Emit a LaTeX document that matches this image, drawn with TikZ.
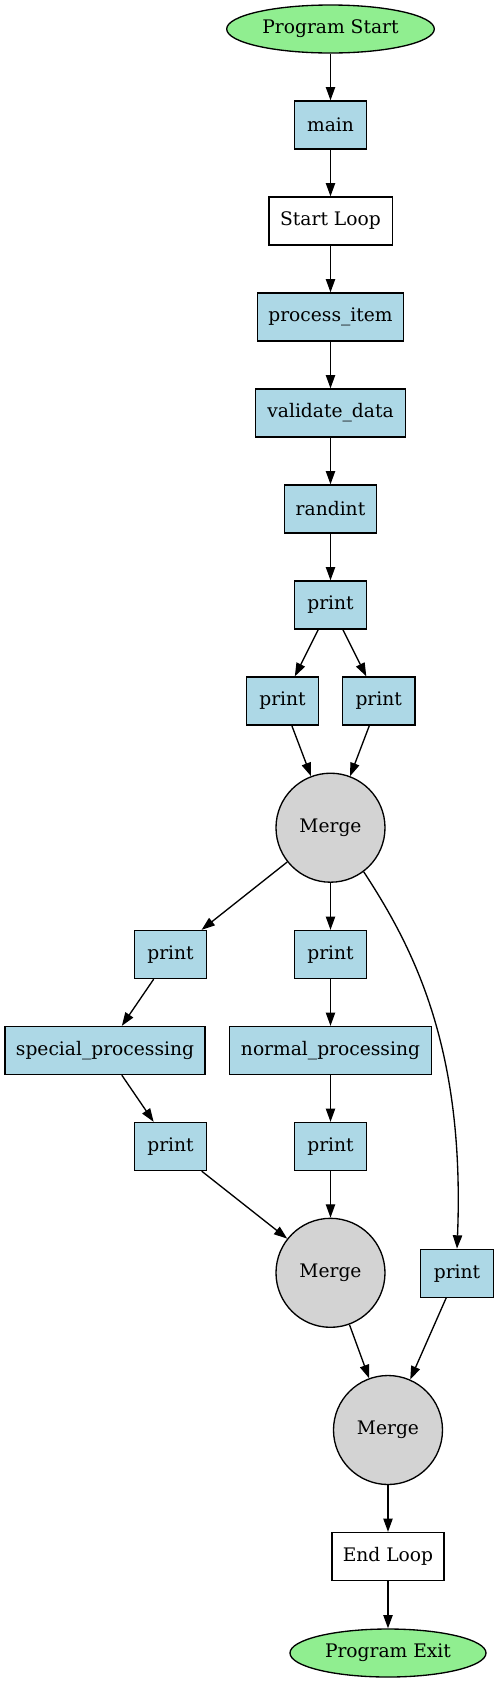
\documentclass[tikz,border=0pt]{standalone}
\usepackage{fontspec}
\setmainfont{DejaVu Serif}
\usetikzlibrary{arrows.meta,shapes.geometric}
\definecolor{lblue}{HTML}{ADD8E6}
\definecolor{lgreen}{HTML}{90EE90}
\definecolor{lgrey}{HTML}{D3D3D3}
\tikzset{
  every node/.style={font=\fontsize{14}{16.8}\selectfont, line width=1pt},
  box/.style={draw, rectangle, fill=lblue, minimum height=36pt, inner xsep=4pt, inner ysep=0pt},
  wbox/.style={box, fill=white},
  term/.style={draw, ellipse, fill=lgreen, minimum height=36pt, inner sep=0pt},
  merge/.style={draw, circle, fill=lgrey, minimum size=81.75pt, inner sep=0pt},
  conn/.style={-{Triangle[length=10pt,width=7pt]}, line width=1pt},
}
\begin{document}
\begin{tikzpicture}[x=0.75pt,y=-0.75pt]
\useasboundingbox (0,0) rectangle (499,1682);
\node[term, minimum width=155.7pt] (start) at (330.5,29) {Program Start};
\node[box, minimum width=54.3pt] (main) at (330.5,125) {main};
\node[wbox, minimum width=92.5pt] (sloop) at (330.5,221) {Start Loop};
\node[box, minimum width=109.8pt] (proc) at (330.5,317) {process\_item};
\node[box, minimum width=112.2pt] (valid) at (330.5,413) {validate\_data};
\node[box, minimum width=69.3pt] (rand) at (330.5,509) {randint};
\node[box, minimum width=54.3pt] (p1) at (330.5,605) {print};
\node[box, minimum width=54.3pt] (p2a) at (282.5,701) {print};
\node[box, minimum width=54.3pt] (p2b) at (378.7,701) {print};
\node[merge] (m1) at (330.5,827.7) {Merge};
\node[box, minimum width=54.3pt] (p3a) at (170.5,954.5) {print};
\node[box, minimum width=54.3pt] (p3b) at (330.5,954.5) {print};
\node[box, minimum width=150.2pt] (spec) at (105,1050.5) {special\_processing};
\node[box, minimum width=151.2pt] (norm) at (330.5,1050.5) {normal\_processing};
\node[box, minimum width=54.3pt] (p4a) at (170.5,1146.5) {print};
\node[box, minimum width=54.3pt] (p4b) at (330.5,1146.5) {print};
\node[merge] (m2) at (330.5,1272.8) {Merge};
\node[box, minimum width=54.3pt] (p5) at (457,1273.3) {print};
\node[merge] (m3) at (388,1430) {Merge};
\node[wbox, minimum width=84.2pt] (eloop) at (388,1556.5) {End Loop};
\node[term, minimum width=147pt] (exit) at (388,1653) {Program Exit};

\draw[conn] (start) -- (main);
\draw[conn] (main) -- (sloop);
\draw[conn] (sloop) -- (proc);
\draw[conn] (proc) -- (valid);
\draw[conn] (valid) -- (rand);
\draw[conn] (rand) -- (p1);
\draw[conn] (p1) -- (p2a);
\draw[conn] (p1) -- (p2b);
\draw[conn] (p2a) -- (m1);
\draw[conn] (p2b) -- (m1);
\draw[conn] (m1) -- (p3a);
\draw[conn] (m1) -- (p3b);
\draw[conn] (m1.-53.5) .. controls (415,950) and (465,1050) .. (p5.north);
\draw[conn] (p3a) -- (spec);
\draw[conn] (p3b) -- (norm);
\draw[conn] (spec) -- (p4a);
\draw[conn] (norm) -- (p4b);
\draw[conn] (p4a) -- (m2);
\draw[conn] (p4b) -- (m2);
\draw[conn] (m2) -- (m3);
\draw[conn] (p5) -- (m3);
\draw[conn] (m3) -- (eloop);
\draw[conn] (eloop) -- (exit);
\end{tikzpicture}
\end{document}
